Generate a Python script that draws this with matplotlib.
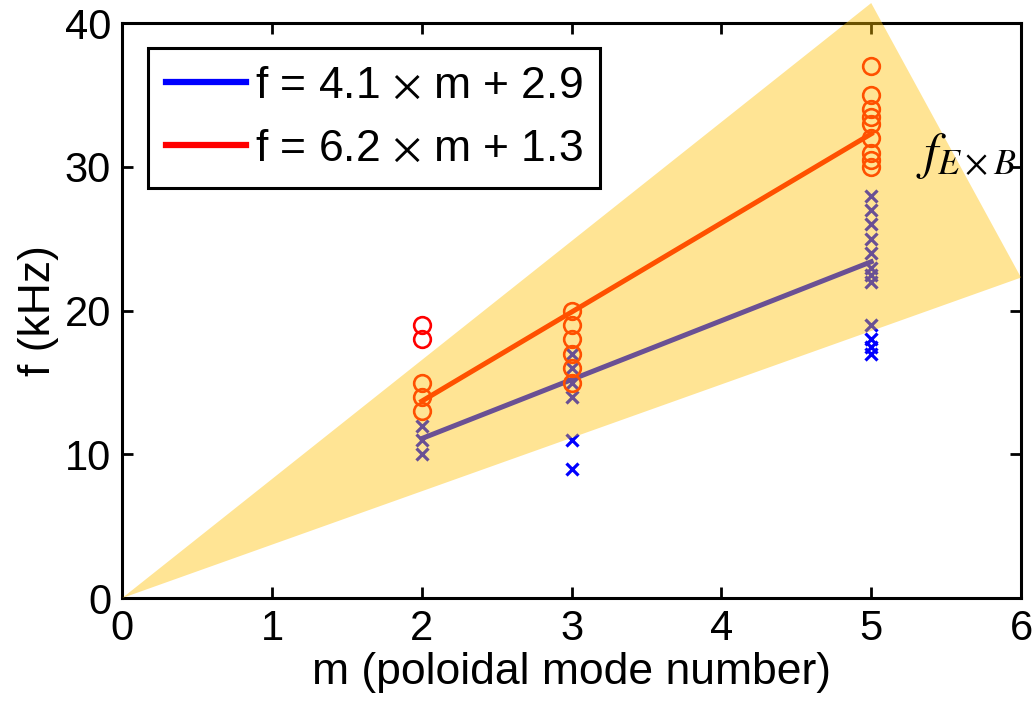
import numpy as np
import matplotlib
matplotlib.use("Agg")
import matplotlib.pyplot as plt
from matplotlib.patches import Polygon

plt.rcParams['font.family'] = ['Liberation Sans', 'DejaVu Sans']
plt.rcParams['mathtext.fontset'] = 'stix'

# measured frequencies (kHz) for each poloidal mode number
m_circ = [2, 2, 2, 2, 2,
          3, 3, 3, 3, 3, 3,
          5, 5, 5, 5, 5, 5, 5, 5, 5]
f_circ = [19, 18, 15, 14, 13,
          20, 19, 18, 17, 16, 15,
          37, 35, 34, 33.5, 33, 32, 31, 30.5, 30]

m_cross = [2, 2, 2,
           3, 3, 3, 3, 3, 3,
           5, 5, 5, 5, 5, 5, 5, 5, 5, 5, 5, 5]
f_cross = [12, 11, 10,
           17, 16, 15, 14, 11, 9,
           28, 27, 26, 25, 24, 23, 22.5, 22, 19, 18, 17.5, 17]

# linear fits
m_fit = np.array([2, 3, 5])
slope_b, icpt_b = 4.1, 2.9
slope_r, icpt_r = 6.2, 1.3

# E x B frequency band (corner points)
band_m = [0, 5.0, 6.0]
band_f = [0, 41.4, 22.3]

fig = plt.figure(figsize=(10.35, 7.02), dpi=100)
ax = fig.add_axes([0.118, 0.148, 0.8685, 0.819])

lb, = ax.plot(m_fit, slope_b * m_fit + icpt_b, color='blue', lw=3.6, zorder=2)
lr, = ax.plot(m_fit, slope_r * m_fit + icpt_r, color='red', lw=3.6, zorder=2)
ax.plot(m_cross, f_cross, 'x', color='blue', ms=8, mew=2.3, zorder=3)
ax.plot(m_circ, f_circ, 'o', mfc='none', mec='red', ms=12, mew=1.9, zorder=3)

band = Polygon(list(zip(band_m, band_f)), closed=True, facecolor='#FFC000',
               edgecolor='none', alpha=0.42, zorder=4, clip_on=False)
ax.add_patch(band)

ax.text(5.3, 29.9, r'$f_{E\times B}$', fontsize=37, zorder=5)

ax.set_xlim(0, 6)
ax.set_ylim(0, 40)
ax.set_xticks(range(0, 7))
ax.set_yticks(range(0, 41, 10))
ax.tick_params(direction='in', length=8, width=2, labelsize=30,
               top=True, right=True, pad=8)
for sp in ax.spines.values():
    sp.set_linewidth(2.2)

ax.set_xlabel('m (poloidal mode number)', fontsize=32, labelpad=2)
ax.set_ylabel('f (kHz)', fontsize=32, labelpad=4)

leg = ax.legend([lb, lr], [r'f = 4.1 $\times$ m + 2.9', r'f = 6.2 $\times$ m + 1.3'],
                loc='upper left', bbox_to_anchor=(0.029, 0.957), borderaxespad=0,
                fontsize=32, fancybox=False, framealpha=1, edgecolor='black',
                handlelength=1.8, handletextpad=0.2, labelspacing=0.5,
                borderpad=0.4)
for h in leg.get_lines():
    h.set_linewidth(4.5)
leg.get_frame().set_linewidth(2.2)
leg.set_zorder(10)

fig.savefig('out.png', dpi=100)
